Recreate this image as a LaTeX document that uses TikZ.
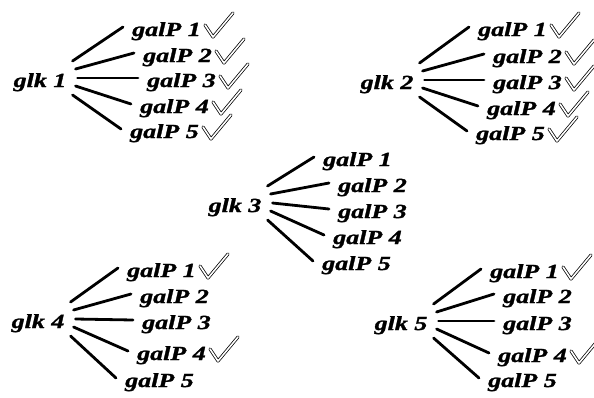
\documentclass[tikz,border=0pt]{standalone}
\usepackage{fontspec}
\usepackage{graphicx}
\setmainfont{Liberation Serif}[BoldItalicFeatures={FakeBold=1.2}]
\usetikzlibrary{calc}
\newcommand{\lt}[1]{\scalebox{1.3}[1]{#1}}
\tikzset{
  lbl/.style={inner sep=0pt, text height=14pt, text depth=0pt, anchor=base west,
    font=\rmfamily\bfseries\itshape\fontsize{20}{24}\selectfont},
  gk/.style={lbl, anchor=base},
  ln/.style={line width=2.8pt, line cap=round},
  tickline/.style={line width=0.75pt, double=white, double distance=1.6pt,
    line cap=round, line join=round},
  tick/.pic={\draw[tickline] (0,-11) -- (8,1) -- (28,-23);}
}
\newcommand{\fan}[1]{%
  \draw[ln] ($(#1.east)+(6,-19)$) -- ($(#1a.west)+(-9,-2)$);
  \draw[ln] ($(#1.east)+(9,-11)$) -- ($(#1b.west)+(-9,-2)$);
  \draw[ln] ($(#1.east)+(11,-2)$) -- ($(#1c.west)+(-9,-2)$);
  \draw[ln] ($(#1.east)+(9,6)$) -- ($(#1d.west)+(-9,-2)$);
  \draw[ln] ($(#1.east)+(6,15)$) -- ($(#1e.west)+(-9,-2)$);
}
\begin{document}
\begin{tikzpicture}[x=1pt,y=-1pt]
\fill[white] (0,0) rectangle (594,397);
\useasboundingbox (0,0) rectangle (594,397);
% group 1
\node[gk] (k1) at (40,87) {\lt{glk 1}};
\node[lbl] (k1a) at (132,36) {\lt{galP 1}};
\node[lbl] (k1b) at (143,62) {\lt{galP 2}};
\node[lbl] (k1c) at (147,87) {\lt{galP 3}};
\node[lbl] (k1d) at (140,113) {\lt{galP 4}};
\node[lbl] (k1e) at (130,138) {\lt{galP 5}};
\fan{k1}
\foreach \n in {a,b,c,d,e} \pic at ($(k1\n.base east)+(4,0)$) {tick};
% group 2
\node[gk] (k2) at (387,89) {\lt{glk 2}};
\node[lbl] (k2a) at (478,36) {\lt{galP 1}};
\node[lbl] (k2b) at (493,63) {\lt{galP 2}};
\node[lbl] (k2c) at (493,89) {\lt{galP 3}};
\node[lbl] (k2d) at (487,115) {\lt{galP 4}};
\node[lbl] (k2e) at (476,140) {\lt{galP 5}};
\fan{k2}
\foreach \n in {a,b,c,d,e} \pic at ($(k2\n.base east)+(4,0)$) {tick};
% group 3
\node[gk] (k3) at (235,212) {\lt{glk 3}};
\node[lbl] (k3a) at (323,166) {\lt{galP 1}};
\node[lbl] (k3b) at (338,192) {\lt{galP 2}};
\node[lbl] (k3c) at (338,218) {\lt{galP 3}};
\node[lbl] (k3d) at (333,244) {\lt{galP 4}};
\node[lbl] (k3e) at (322,270) {\lt{galP 5}};
\fan{k3}
% group 4
\node[gk] (k4) at (38,328) {\lt{glk 4}};
\node[lbl] (k4a) at (127,277) {\lt{galP 1}};
\node[lbl] (k4b) at (140,303) {\lt{galP 2}};
\node[lbl] (k4c) at (142,329) {\lt{galP 3}};
\node[lbl] (k4d) at (137,360) {\lt{galP 4}};
\node[lbl] (k4e) at (125,387) {\lt{galP 5}};
\fan{k4}
\pic at ($(k4a.base east)+(4,0)$) {tick};
\pic at ($(k4d.base east)+(4,0)$) {tick};
% group 5
\node[gk] (k5) at (401,330) {\lt{glk 5}};
\node[lbl] (k5a) at (490,278) {\lt{galP 1}};
\node[lbl] (k5b) at (503,303) {\lt{galP 2}};
\node[lbl] (k5c) at (503,330) {\lt{galP 3}};
\node[lbl] (k5d) at (498,362) {\lt{galP 4}};
\node[lbl] (k5e) at (488,387) {\lt{galP 5}};
\fan{k5}
\pic at ($(k5a.base east)+(4,0)$) {tick};
\pic at ($(k5d.base east)+(4,0)$) {tick};
\end{tikzpicture}
\end{document}
